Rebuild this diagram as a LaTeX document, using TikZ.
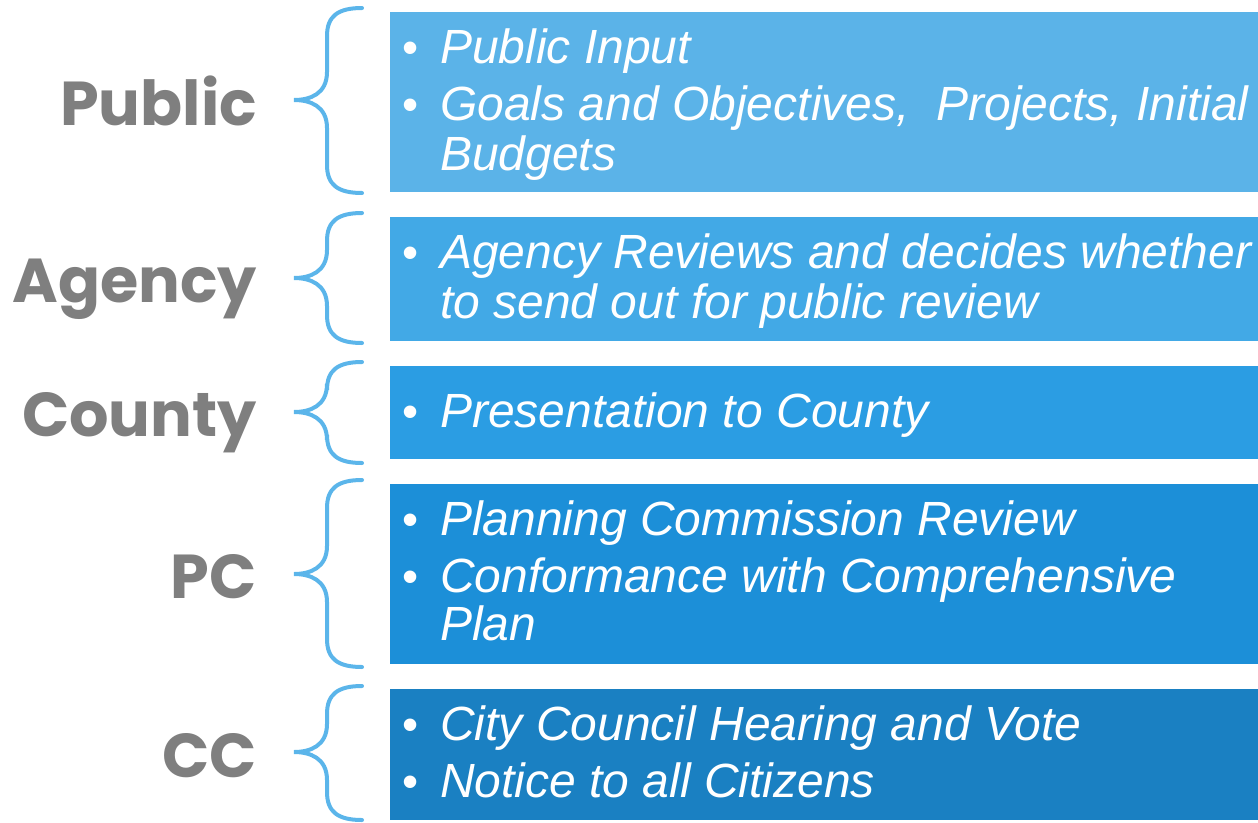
\documentclass[tikz,border=0pt]{standalone}
\usepackage{fontspec}
\setmainfont{Liberation Sans}
\newfontfamily\labfont{Poppins}
\begin{document}
\begin{tikzpicture}[x=1pt,y=-1pt,
  brace/.style={draw=braceblue,line width=4pt,line cap=round},
  itm/.style={anchor=base west,inner sep=0pt,text=white,font=\fontsize{48}{52}\selectfont\itshape},
  bul/.style={anchor=base west,inner sep=0pt,text=white,font=\fontsize{46}{50}\selectfont},
  lab/.style={anchor=base east,inner sep=0pt,text=labgray,font=\labfont\bfseries\fontsize{62}{68}\selectfont}]
\definecolor{braceblue}{HTML}{5BB5EA}
\definecolor{labgray}{HTML}{7F7F7F}
\definecolor{c1}{HTML}{5BB3E8}
\definecolor{c2}{HTML}{42A9E6}
\definecolor{c3}{HTML}{2B9DE3}
\definecolor{c4}{HTML}{1C8FD8}
\definecolor{c5}{HTML}{1A80C2}
\useasboundingbox (0,0) rectangle (1258,822);
% boxes
\fill[c1] (390,12) rectangle (1258,192);
\fill[c2] (390,217) rectangle (1258,341);
\fill[c3] (390,366) rectangle (1258,459);
\fill[c4] (390,484) rectangle (1258,664);
\fill[c5] (390,689) rectangle (1258,820);
% braces
\foreach \t/\m/\b in {8/100/193, 213/278/343, 362/412/463, 480/574/667, 686/752/820}{
  \draw[brace] (362,\t) .. controls (338,\t) and (327,\t+8) .. (327,\t+28)
    -- (327,\m-28) .. controls (327,\m-6) and (310,\m) .. (294,\m)
    .. controls (310,\m) and (327,\m+6) .. (327,\m+28)
    -- (327,\b-28) .. controls (327,\b-8) and (338,\b) .. (362,\b);
}
% labels
\node[lab] (lpub) at (257,125) {Public};
\node[lab] (lage) at (257,302) {Agency};
\node[lab] (lcou) at (257,436) {County};
\node[lab] (lpc) at (257,598) {PC};
\node[lab] (lcc) at (257,777) {CC};
% items
\node[bul] (b11) at (402,63) {•};
\node[itm] (t11) at (440,63) {Public Input};
\node[bul] (b12) at (402,120) {•};
\node[itm] (t12) at (440,120) {Goals and Objectives,\ \ Projects, Initial};
\node[itm] (t13) at (440,170) {Budgets};
\node[bul] (b21) at (402,268) {•};
\node[itm] (t21) at (440,268) {Agency Reviews and decides whether};
\node[itm] (t22) at (440,318) {to send out for public review};
\node[bul] (b31) at (402,427) {•};
\node[itm] (t31) at (440,427) {Presentation to County};
\node[bul] (b41) at (402,535) {•};
\node[itm] (t41) at (440,535) {Planning Commission Review};
\node[bul] (b42) at (402,592) {•};
\node[itm] (t42) at (440,592) {Conformance with Comprehensive};
\node[itm] (t43) at (440,640) {Plan};
\node[bul] (b51) at (402,740) {•};
\node[itm] (t51) at (440,740) {City Council Hearing and Vote};
\node[bul] (b52) at (402,797) {•};
\node[itm] (t52) at (440,797) {Notice to all Citizens};
\end{tikzpicture}
\end{document}
